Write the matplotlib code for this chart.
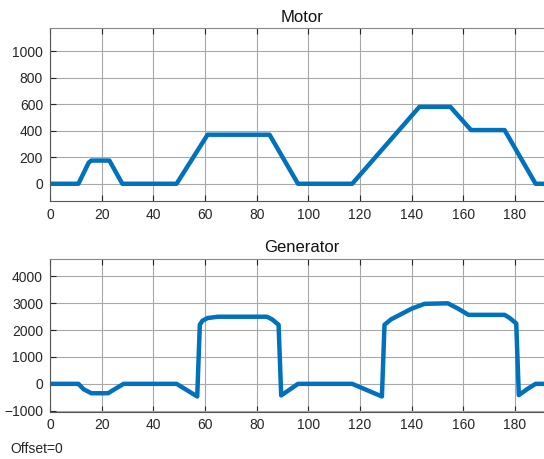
import matplotlib
matplotlib.use("Agg")
import matplotlib.pyplot as plt

plt.rcParams['font.family'] = ['Liberation Sans', 'DejaVu Sans']

motor_t = [0, 11, 15, 16, 23, 28, 49, 61, 85, 96, 117, 143, 155, 163, 176, 188, 200]
motor_v = [0, 0, 160, 175, 175, 0, 0, 370, 370, 0, 0, 580, 580, 405, 405, 0, 0]

gen_t = [0, 11, 13, 16, 22.5, 25, 28.5, 49, 57, 58, 59, 61, 65, 84, 86, 88.5, 89.5,
         93, 96, 117, 128.5, 129.5, 132, 136, 140, 145, 154, 158, 162, 176, 178,
         180.5, 181.5, 185, 188, 200]
gen_v = [0, 0, -200, -350, -350, -200, 0, 0, -470, 2200, 2350, 2450, 2500, 2500,
         2400, 2200, -430, -200, 0, 0, -470, 2200, 2400, 2600, 2800, 2980, 3000,
         2800, 2570, 2570, 2450, 2250, -420, -180, 0, 0]

x_ticks = [0, 20, 40, 60, 80, 100, 120, 140, 160, 180]
motor_yticks = [0, 200, 400, 600, 800, 1000]
gen_yticks = [-1000, 0, 1000, 2000, 3000, 4000]

W, H = 544, 459
fig = plt.figure(figsize=(W / 100, H / 100), dpi=100)

def px_axes(left, top, right, bottom):
    return fig.add_axes([left / W, 1 - bottom / H, (right - left) / W, (bottom - top) / H])

blue = '#0072BD'
x_max = (544 - 50) / 2.583

def style(ax):
    ax.set_xlim(0, x_max)
    ax.set_xticks(x_ticks)
    ax.grid(True, color='#a8a8a8', linewidth=0.8)
    ax.set_axisbelow(True)
    ax.tick_params(direction='in', length=4, width=0.8, labelsize=10,
                   top=True, right=False, colors='#262626', pad=5)
    for s in ['top', 'left', 'bottom']:
        ax.spines[s].set_color('#555555')
        ax.spines[s].set_linewidth(0.8)
    ax.spines['top'].set_color('#888888')
    ax.spines['right'].set_visible(False)

ax1 = px_axes(50, 28, 544, 201)
ax1.plot(motor_t, motor_v, color=blue, linewidth=3.2, solid_joinstyle='round')
style(ax1)
ax1.set_ylim(-130, 1175)
ax1.set_yticks(motor_yticks)
fig.text(302 / W, 1 - 17.5 / H, 'Motor', ha='center', va='center', fontsize=12, color='#111111')

ax2 = px_axes(50, 259, 544, 411.5)
ax2.plot(gen_t, gen_v, color=blue, linewidth=3.2, solid_joinstyle='round')
style(ax2)
ax2.set_ylim(-1030, 4650)
ax2.set_yticks(gen_yticks)
fig.text(302 / W, 1 - 247.5 / H, 'Generator', ha='center', va='center', fontsize=12, color='#111111')

fig.text(10 / W, 1 - 449 / H, 'Offset=0', ha='left', va='center', fontsize=10, color='#262626')

fig.savefig('out.png', dpi=100)
